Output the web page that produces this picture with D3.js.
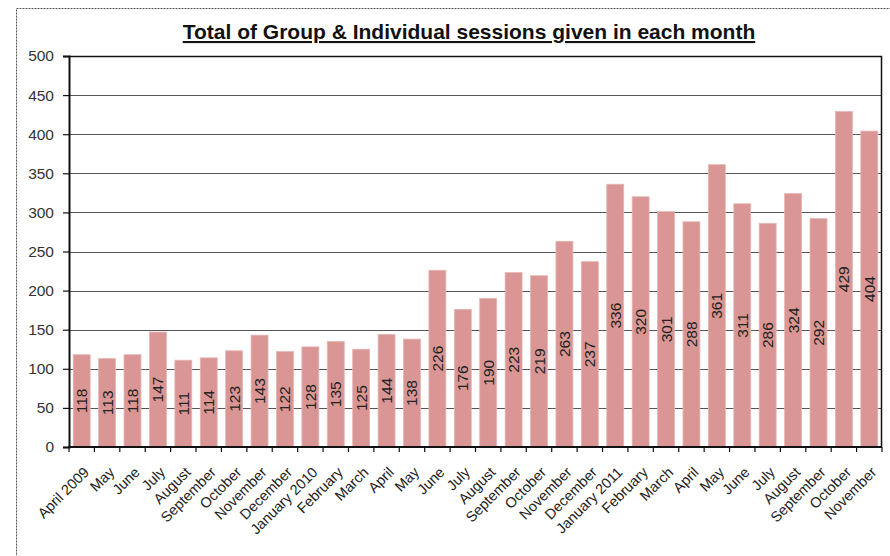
<!DOCTYPE html>
<html>
<head>
<meta charset="utf-8">
<script src="https://cdn.jsdelivr.net/npm/d3@7"></script>
<style>
  html, body { margin: 0; padding: 0; background: #fff; }
  svg { display: block; font-family: "Liberation Sans", Arial, sans-serif; }
</style>
</head>
<body>
<svg id="chart" width="890" height="556"></svg>
<script>
// Monthly totals of group and individual sessions
const months = [
  "April 2009", "May", "June", "July", "August", "September", "October", "November", "December",
  "January 2010", "February", "March", "April", "May", "June", "July", "August", "September",
  "October", "November", "December",
  "January 2011", "February", "March", "April", "May", "June", "July", "August", "September",
  "October", "November"
];
const sessions = [
  118, 113, 118, 147, 111, 114, 123, 143, 122,
  128, 135, 125, 144, 138, 226, 176, 190, 223, 219, 263, 237,
  336, 320, 301, 288, 361, 311, 286, 324, 292, 429, 404
];
const yTicks = [0, 50, 100, 150, 200, 250, 300, 350, 400, 450, 500];
const title = "Total of Group & Individual sessions given in each month";

const svg = d3.select("#chart");
const plot = { left: 69, top: 56, right: 882, bottom: 447 };

// outer chart frame (dashed)
svg.append("rect")
  .attr("x", 16.5).attr("y", 8.5)
  .attr("width", 900).attr("height", 600)
  .attr("fill", "none")
  .attr("stroke", "#555")
  .attr("stroke-width", 1)
  .attr("stroke-dasharray", "2,1");

const keys = months.map((m, i) => i);
const x = d3.scaleBand().domain(keys).range([plot.left, plot.right]).paddingInner(1 / 3).paddingOuter(1 / 6);
const y = d3.scaleLinear().domain([0, 500]).range([plot.bottom, plot.top]);

// gridlines
svg.append("g")
  .selectAll("line")
  .data(yTicks.filter(t => t > 0 && t < 500))
  .join("line")
  .attr("x1", plot.left).attr("x2", plot.right)
  .attr("y1", d => Math.round(y(d)) + 0.5).attr("y2", d => Math.round(y(d)) + 0.5)
  .attr("stroke", "#555").attr("stroke-width", 1.2);

// bars
svg.append("g")
  .selectAll("rect")
  .data(sessions)
  .join("rect")
  .attr("x", (d, i) => x(i))
  .attr("y", d => y(d))
  .attr("width", x.bandwidth())
  .attr("height", d => y(0) - y(d))
  .attr("fill", "#D99694")
  .attr("stroke", "#E6B4B3")
  .attr("stroke-width", 0.8);

// value labels, centred in each bar
svg.append("g")
  .selectAll("text")
  .data(sessions)
  .join("text")
  .attr("transform", (d, i) => `translate(${x(i) + x.bandwidth() / 2 + 5.5},${(y(d) + y(0)) / 2}) rotate(-90)`)
  .attr("text-anchor", "middle")
  .attr("font-size", 15.5)
  .attr("fill", "#222")
  .text(d => d);

// plot frame: top and right border
svg.append("path")
  .attr("d", `M${plot.left},${plot.top + 0.5}H${plot.right - 0.5}V${plot.bottom}`)
  .attr("fill", "none").attr("stroke", "#111").attr("stroke-width", 1.5);

// y axis
const yAxis = d3.axisLeft(y).tickValues(yTicks).tickSize(6).tickPadding(9);
const gy = svg.append("g").attr("transform", `translate(${plot.left},0)`).call(yAxis);
gy.select(".domain").attr("stroke", "#111").attr("stroke-width", 2);
gy.selectAll(".tick line").attr("stroke", "#111").attr("stroke-width", 1.2);
gy.selectAll(".tick text").attr("font-size", 15.5).attr("fill", "#333")
  .attr("font-family", "Liberation Sans, Arial, sans-serif");

// x axis: ticks sit between categories
const boundaries = d3.range(months.length + 1).map(i => plot.left + i * (plot.right - plot.left) / months.length);
const gx = svg.append("g");
gx.append("line")
  .attr("x1", plot.left - 1).attr("x2", plot.right)
  .attr("y1", plot.bottom).attr("y2", plot.bottom)
  .attr("stroke", "#111").attr("stroke-width", 2);
gx.selectAll("line.tk")
  .data(boundaries)
  .join("line")
  .attr("class", "tk")
  .attr("x1", d => d).attr("x2", d => d)
  .attr("y1", plot.bottom).attr("y2", plot.bottom + 5)
  .attr("stroke", "#111").attr("stroke-width", 1.2);
gx.selectAll("text")
  .data(months)
  .join("text")
  .attr("transform", (d, i) => `translate(${x(i) + x.bandwidth() / 2 + 1},${plot.bottom + 19}) rotate(-45)`)
  .attr("text-anchor", "end")
  .attr("dy", "0.7em")
  .attr("font-size", 14.5)
  .attr("fill", "#222")
  .text(d => d);

// title
svg.append("text")
  .attr("x", 469).attr("y", 39)
  .attr("text-anchor", "middle")
  .attr("font-size", 21)
  .attr("font-weight", "bold")
  .attr("text-decoration", "underline")
  .attr("fill", "#111")
  .text(title);
</script>
</body>
</html>
